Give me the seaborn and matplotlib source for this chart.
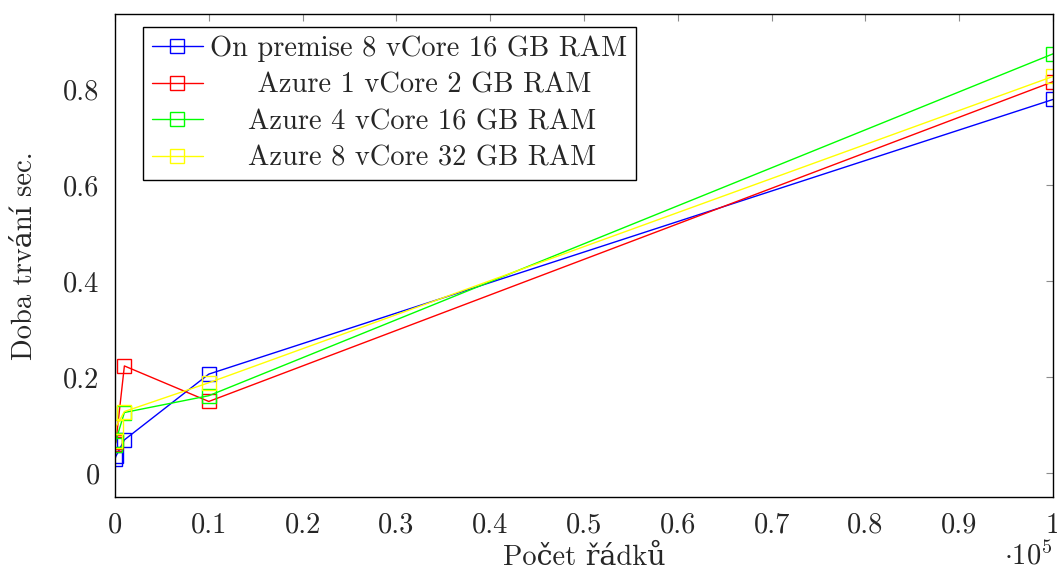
import numpy as np
import pandas as pd
import matplotlib
matplotlib.use("Agg")
import matplotlib.pyplot as plt
import seaborn as sns

# Row counts and measured durations (seconds)
rows = [10, 100, 1000, 10000, 100000]
on_premise = [0.030, 0.035, 0.069, 0.206, 0.778]
azure_1 = [0.060, 0.065, 0.223, 0.149, 0.815]
azure_4 = [0.058, 0.068, 0.126, 0.161, 0.873]
azure_8 = [0.066, 0.096, 0.128, 0.188, 0.826]

series_names = ["On premise 8 vCore 16 GB RAM", "Azure 1 vCore 2 GB RAM",
                "Azure 4 vCore 16 GB RAM", "Azure 8 vCore 32 GB RAM"]
legend_labels = ["On premise 8 vCore 16 GB RAM", "     Azure 1 vCore 2 GB RAM",
                 "    Azure 4 vCore 16 GB RAM", "    Azure 8 vCore 32 GB RAM"]
colors = ["#0000ff", "#ff0000", "#00ff00", "#ffff00"]

x_ticks = [0, 0.1, 0.2, 0.3, 0.4, 0.5, 0.6, 0.7, 0.8, 0.9, 1]
x_tick_labels = ["0", "0.1", "0.2", "0.3", "0.4", "0.5", "0.6", "0.7", "0.8", "0.9", "1"]
y_ticks = [0, 0.2, 0.4, 0.6, 0.8]
y_tick_labels = ["0", "0.2", "0.4", "0.6", "0.8"]

df = pd.DataFrame({
    "rows": np.tile(rows, 4) / 1e5,
    "sec": on_premise + azure_1 + azure_4 + azure_8,
    "config": np.repeat(series_names, len(rows)),
})

sns.set_style("white")
plt.rcParams["font.family"] = ["cmr10", "DejaVu Serif"]
plt.rcParams["mathtext.fontset"] = "cm"
plt.rcParams["axes.formatter.use_mathtext"] = True

fs = 20.5
fig = plt.figure(figsize=(10.57, 5.72), dpi=100)
ax = fig.add_axes([0.1088, 0.1311, 0.8874, 0.8444])

sns.lineplot(data=df, x="rows", y="sec", hue="config", hue_order=series_names,
             palette=colors, marker="s", markersize=10, linewidth=1,
             markerfacecolor="none", legend=False, ax=ax, sort=True)

# hollow squares in the line colour
for line in ax.lines:
    line.set_markeredgecolor(line.get_color())
    line.set_markeredgewidth(1.0)

ax.set_xlim(0, 1)
ax.set_ylim(-0.05, 0.956)
ax.set_xticks(x_ticks)
ax.set_xticklabels(x_tick_labels)
ax.set_yticks(y_ticks)
ax.set_yticklabels(y_tick_labels)
ax.tick_params(direction="in", top=True, right=True, length=5, width=0.8,
               color="0.55", labelsize=fs, pad=11)
for sp in ax.spines.values():
    sp.set_color("black")
    sp.set_linewidth(1.0)

ax.set_xlabel("Počet řádků", fontsize=fs, labelpad=4)
ax.set_ylabel("Doba trvání sec.", fontsize=fs, labelpad=18)
ax.text(1.0, -0.122, r"$\cdot 10^{5}$", transform=ax.transAxes, ha="right",
        va="center", fontsize=fs)

leg = ax.legend(handles=ax.lines[:4], labels=legend_labels, loc="upper left",
                bbox_to_anchor=(0.03, 0.973), borderaxespad=0, fontsize=fs,
                frameon=True, fancybox=False, framealpha=1, edgecolor="black",
                handlelength=1.8, handletextpad=0.25, labelspacing=0.36,
                borderpad=0.3, numpoints=1)
leg.get_frame().set_linewidth(1.0)

fig.savefig("out.png", dpi=100)
